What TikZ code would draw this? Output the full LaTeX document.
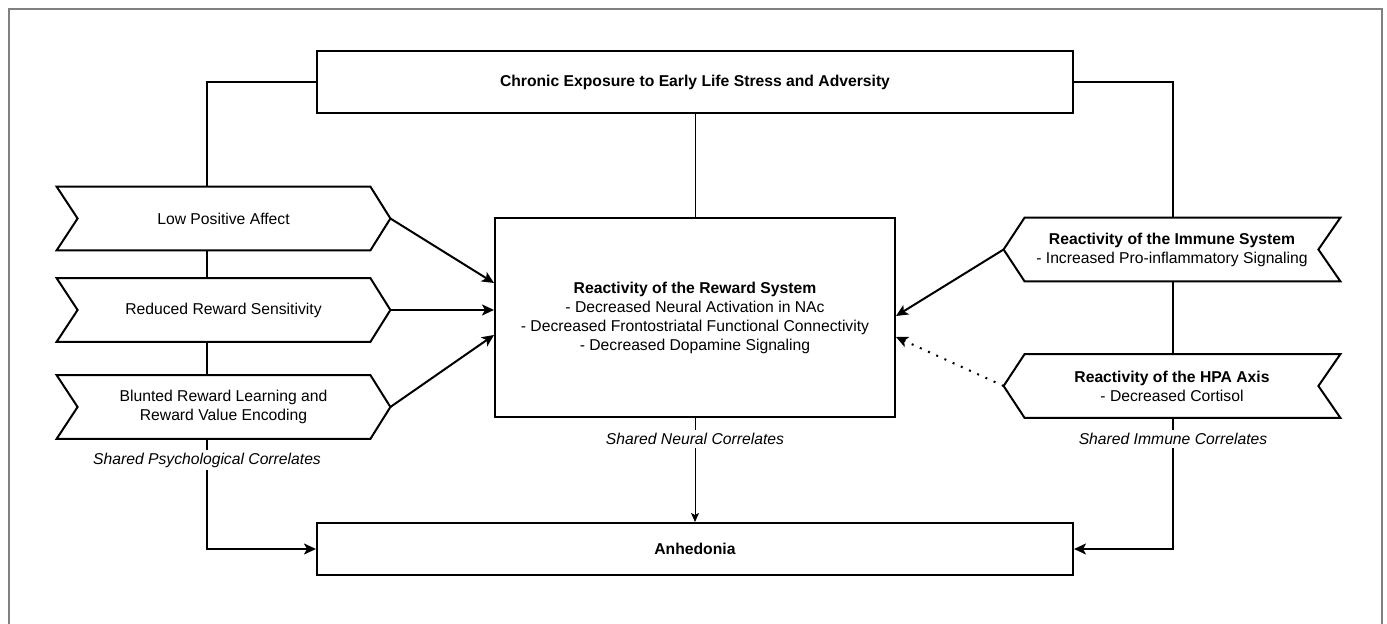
\documentclass[tikz,border=0pt]{standalone}
\usepackage{fontspec}
\setmainfont{Liberation Sans}
\usetikzlibrary{arrows.meta}

% chevron outlines round a named node
\newcommand{\cueright}[1]{\draw[outline] (#1.north west) -- ([xshift=-10pt]#1.north east) -- (#1.east) -- ([xshift=-10pt]#1.south east) -- (#1.south west) -- ([xshift=10.5pt]#1.west) -- cycle;}
\newcommand{\cueleft}[1]{\draw[outline] (#1.north east) -- ([xshift=10.5pt]#1.north west) -- (#1.west) -- ([xshift=10.5pt]#1.south west) -- (#1.south east) -- ([xshift=-11pt]#1.east) -- cycle;}

\begin{document}
\begin{tikzpicture}[
    x=0.5pt, y=-0.5pt,
    font=\fontsize{7.85}{9.5}\selectfont,
    box/.style={rectangle, draw, line width=1pt, align=center, inner sep=0pt},
    cue/.style={rectangle, align=center, minimum height=31.5pt, inner sep=0pt},
    outline/.style={line width=1pt, line join=miter},
    link/.style={line width=1pt},
    arrow/.style={-{Stealth[length=6pt, width=5.5pt, inset=1.5pt]}, line width=1pt},
    thinarrow/.style={-{Stealth[length=4.5pt, width=4pt, inset=1pt]}, line width=0.5pt},
    corr/.style={fill=white, font=\fontsize{7.85}{9.5}\selectfont\itshape, inner sep=1.5pt}
]
\useasboundingbox (0,0) rectangle (1387,624);

% outer frame
\draw[gray, line width=1pt] (9,624) -- (9,9) -- (1382,9) -- (1382,624);

% main boxes
\node[box, minimum width=378pt, minimum height=31pt] (stress) at (695,82) {\textbf{Chronic Exposure to Early Life Stress and Adversity}};
\node[box, minimum width=200pt, minimum height=99.5pt] (reward) at (695,317.5) {\textbf{Reactivity of the Reward System}\\- Decreased Neural Activation in NAc\\- Decreased Frontostriatal Functional Connectivity\\- Decreased Dopamine Signaling};
\node[box, minimum width=378pt, minimum height=26pt] (anhedonia) at (695,549) {\textbf{Anhedonia}};

% psychological correlates (left)
\node[cue, minimum width=166.5pt] (affect) at (223.5,218.5) {Low Positive Affect};
\node[cue, minimum width=166.5pt] (sensitivity) at (223.5,310) {Reduced Reward Sensitivity};
\node[cue, minimum width=166.5pt] (learning) at (223.5,407) {Blunted Reward Learning and\\Reward Value Encoding};
\cueright{affect}
\cueright{sensitivity}
\cueright{learning}

% immune correlates (right)
\node[cue, minimum width=168pt] (immune) at (1172,249.5) {\textbf{Reactivity of the Immune System}\\- Increased Pro-inflammatory Signaling};
\node[cue, minimum width=168pt] (hpa) at (1172,386) {\textbf{Reactivity of the HPA Axis}\\- Decreased Cortisol};
\cueleft{immune}
\cueleft{hpa}

% spines
\coordinate (lspine) at (207,82);
\coordinate (rspine) at (1173,82);

\draw[link] (stress.west) -- (lspine) -- (lspine |- affect.north);
\draw[link] (stress.east) -- (rspine) -- (rspine |- immune.north);
\draw[link] (lspine |- affect.south) -- (lspine |- sensitivity.north);
\draw[link] (lspine |- sensitivity.south) -- (lspine |- learning.north);
\draw[link] (rspine |- immune.south) -- (rspine |- hpa.north);
\draw[line width=0.5pt] (stress.south) -- (reward.north);

% into anhedonia
\draw[arrow] (lspine |- learning.south) |- (anhedonia.west);
\draw[arrow] (rspine |- hpa.south) |- (anhedonia.east);
\draw[thinarrow] (reward.south) -- (anhedonia.north);

% correlate labels
\node[corr] (psych) at (207,460) {Shared Psychological Correlates};
\node[corr] (neural) at (695,439) {Shared Neural Correlates};
\node[corr] (immcor) at (1173,439) {Shared Immune Correlates};

% into the reward system
\draw[arrow] (affect.east) -- ([yshift=17.25pt]reward.west);
\draw[arrow] (sensitivity.east) -- (sensitivity.east -| reward.west);
\draw[arrow] (learning.east) -- ([yshift=-8.75pt]reward.west);
\draw[arrow] (immune.west) -- ([yshift=0.75pt]reward.east);
\draw[arrow, dash pattern=on 1pt off 3.5pt] (hpa.west) -- ([yshift=-9.75pt]reward.east);

\end{tikzpicture}
\end{document}
